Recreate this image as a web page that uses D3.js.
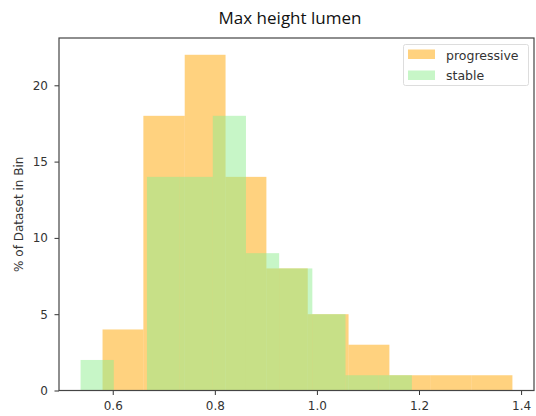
<!DOCTYPE html>
<html>
<head>
<meta charset="utf-8">
<script src="https://cdn.jsdelivr.net/npm/d3@7"></script>
<style>
  body { margin: 0; background: #fff; }
  text { font-family: "DejaVu Sans", sans-serif; }
</style>
</head>
<body>
<div id="chart"></div>
<script>
// bin edges and heights (% of dataset)
const progressiveEdges = [0.580, 0.660, 0.741, 0.821, 0.901, 0.982, 1.062, 1.142, 1.222, 1.303, 1.383];
const progressiveValues = [4, 18, 22, 14, 8, 5, 3, 1, 1, 1];
const stableEdges = [0.537, 0.602, 0.667, 0.731, 0.796, 0.861, 0.926, 0.991, 1.056, 1.121, 1.186];
const stableValues = [2, 0, 14, 14, 18, 9, 8, 5, 1, 1];
const xTicks = [0.6, 0.8, 1.0, 1.2, 1.4];
const yTicks = [0, 5, 10, 15, 20];
const seriesNames = ["progressive", "stable"];

const width = 536, height = 416;
const plotLeft = 59, plotRight = 534, plotTop = 38, plotBottom = 390.5;

const svg = d3.select("#chart").append("svg")
  .attr("width", width)
  .attr("height", height);

const x = d3.scaleLinear().domain([0.4947, 1.4253]).range([plotLeft, plotRight]);
const y = d3.scaleLinear().domain([0, 23.1]).range([plotBottom, plotTop]);

function bins(edges, values) {
  return values.map((v, i) => ({ x0: edges[i], x1: edges[i + 1], v }));
}

const series = [
  { name: seriesNames[0], data: bins(progressiveEdges, progressiveValues), color: "#FFA500" },
  { name: seriesNames[1], data: bins(stableEdges, stableValues), color: "#90EE90" }
];

series.forEach(s => {
  svg.append("g").selectAll("rect")
    .data(s.data.filter(d => d.v > 0))
    .enter()
    .append("rect")
    .attr("x", d => x(d.x0))
    .attr("width", d => x(d.x1) - x(d.x0))
    .attr("y", d => y(d.v))
    .attr("height", d => y(0) - y(d.v))
    .attr("fill", s.color)
    .attr("fill-opacity", 0.5);
});

// axes
const xAxis = svg.append("g")
  .attr("transform", `translate(0,${plotBottom})`)
  .call(d3.axisBottom(x).tickValues(xTicks).tickFormat(d3.format(".1f")).tickSize(4.5).tickPadding(6));
const yAxis = svg.append("g")
  .attr("transform", `translate(${plotLeft},0)`)
  .call(d3.axisLeft(y).tickValues(yTicks).tickSize(4.5).tickPadding(6.5));

[xAxis, yAxis].forEach(a => {
  a.select(".domain").remove();
  a.selectAll("line").attr("stroke", "#333");
  a.selectAll("text").attr("font-size", 12).attr("fill", "#333")
    .style("font-family", "DejaVu Sans, sans-serif");
});

// frame
svg.append("rect")
  .attr("x", plotLeft)
  .attr("y", plotTop)
  .attr("width", plotRight - plotLeft)
  .attr("height", plotBottom - plotTop)
  .attr("fill", "none")
  .attr("stroke", "#444")
  .attr("stroke-width", 1.2);

// title
svg.append("text")
  .attr("x", 290)
  .attr("y", 24)
  .attr("text-anchor", "middle")
  .attr("font-size", 17)
  .style("font-family", "Open Sans, sans-serif")
  .attr("fill", "#111")
  .text("Max height lumen");

// y label
svg.append("text")
  .attr("transform", `translate(23,${(plotTop + plotBottom) / 2}) rotate(-90)`)
  .attr("text-anchor", "middle")
  .attr("font-size", 12)
  .attr("fill", "#333")
  .text("% of Dataset in Bin");

// legend
const legend = svg.append("g");
legend.append("rect")
  .attr("x", 403.5).attr("y", 44.5)
  .attr("width", 125).attr("height", 41)
  .attr("rx", 2)
  .attr("fill", "#fff")
  .attr("fill-opacity", 0.8)
  .attr("stroke", "#ddd");
series.forEach((s, i) => {
  legend.append("rect")
    .attr("x", 408).attr("y", 49.5 + i * 21)
    .attr("width", 27).attr("height", 9.5)
    .attr("fill", s.color)
    .attr("fill-opacity", 0.5);
  legend.append("text")
    .attr("x", 446).attr("y", 59.5 + i * 20.5)
    .attr("font-size", 12.5)
    .attr("fill", "#333")
    .text(s.name);
});
</script>
</body>
</html>
